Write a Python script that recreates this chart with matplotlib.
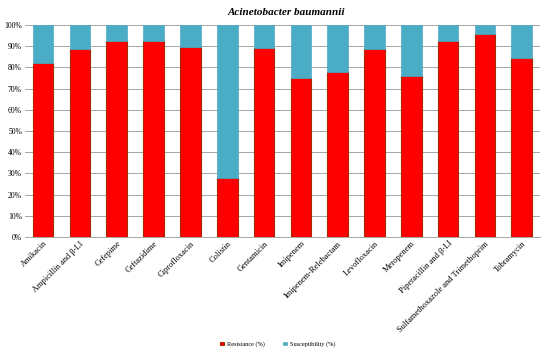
import matplotlib
matplotlib.use("Agg")
import matplotlib.pyplot as plt
import numpy as np

categories = ["Amikacin", "Ampicillin and β-LI", "Cefepime", "Ceftazidime",
              "Ciprofloxacin", "Colistin", "Gentamicin", "Imipenem",
              "Imipenem-Relebactam", "Levofloxacin", "Meropenem",
              "Piperacillin and β-LI", "Sulfamethoxazole and Trimethoprim",
              "Tobramycin"]
resistance = [82, 88.5, 92.5, 92.5, 89.5, 28, 89, 75, 78, 88.5, 76, 92.5, 96, 84.5]
susceptibility = [100 - r for r in resistance]
yticks = [0, 10, 20, 30, 40, 50, 60, 70, 80, 90, 100]
ytick_labels = [f"{v}%" for v in yticks]

plt.rcParams['font.family'] = ['Liberation Serif', 'DejaVu Serif']

fig = plt.figure(figsize=(5.5, 3.53), dpi=100)
ax = fig.add_axes([0.045, 0.329, 0.937, 0.600])

x = np.arange(len(categories))
w = 0.56
ax.bar(x, resistance, w, color='#FF0000', edgecolor='#A52A00', linewidth=0.8,
       label='Resistance (%)', zorder=3)
ax.bar(x, susceptibility, w, bottom=resistance, color='#4BACC6',
       edgecolor='#4BACC6', linewidth=0.5, label='Susceptibility (%)', zorder=3)

ax.set_xlim(-0.5, len(categories) - 0.5)
ax.set_ylim(0, 100)
ax.set_yticks(yticks)
ax.set_yticklabels(ytick_labels, fontsize=5.5)
ax.set_xticks(x)
ax.set_xticklabels(categories, rotation=45, ha='right', rotation_mode='anchor',
                   fontsize=6)
ax.tick_params(axis='both', length=0, pad=2)
ax.grid(axis='y', color='#A6A6A6', linewidth=0.7, zorder=0)
for s in ['top', 'right', 'left']:
    ax.spines[s].set_visible(False)
ax.spines['bottom'].set_color('#A6A6A6')
ax.spines['bottom'].set_linewidth(0.7)

fig.text(0.52, 0.965, "Acinetobacter baumannii", ha='center', va='center',
         fontsize=8, fontstyle='italic', fontweight='bold')

handles, labels = ax.get_legend_handles_labels()
fig.legend(handles, labels, loc='center', bbox_to_anchor=(0.505, 0.025), ncol=2,
           frameon=False, fontsize=4.5, handlelength=0.6, handleheight=0.6,
           columnspacing=3, handletextpad=0.4)

fig.savefig("out.png", dpi=100)
